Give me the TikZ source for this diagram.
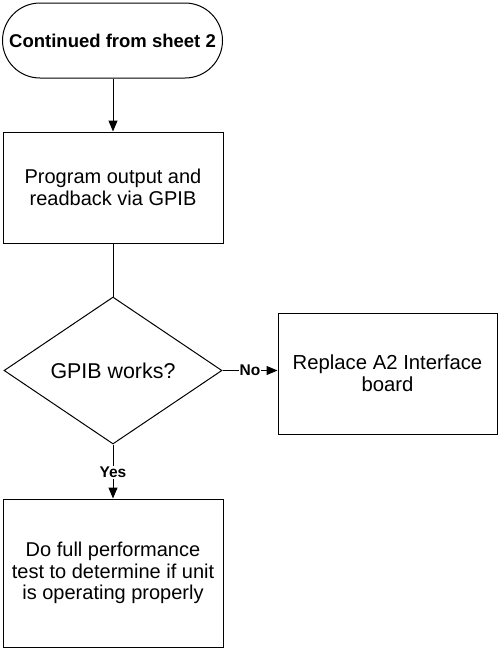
\documentclass[tikz,border=0pt]{standalone}
\usepackage{fontspec}
\setmainfont{Liberation Sans}
\usetikzlibrary{shapes.geometric,shapes.misc,arrows.meta}
\tikzset{
  boxnode/.style={draw,line width=1pt,rectangle,inner sep=0pt,align=center},
  term/.style={draw,line width=1pt,rounded rectangle,inner sep=0pt,align=center},
  dec/.style={draw,line width=1pt,diamond,inner sep=0pt,align=center},
  conn/.style={line width=1pt,-{Triangle[width=9pt,length=11pt]}},
  lbl/.style={fill=white,inner sep=1pt,font=\fontsize{15.5}{17}\selectfont\bfseries}
}
\begin{document}
\begin{tikzpicture}[x=1pt,y=-1pt]
\useasboundingbox (0,0) rectangle (498,649);
\node[term,minimum width=220pt,minimum height=75pt,font=\fontsize{18.5}{21}\selectfont\bfseries] (t) at (112.5,40.5) {Continued from sheet 2};
\node[boxnode,minimum width=220pt,minimum height=111pt,font=\fontsize{20}{21.7}\selectfont] (b1) at (113,187.5) {Program output and\\readback via GPIB};
\node[dec,minimum width=218pt,minimum height=147pt,font=\fontsize{21.4}{22}\selectfont] (d) at (113,370.5) {GPIB works?};
\node[boxnode,minimum width=219pt,minimum height=121pt,font=\fontsize{20.3}{21.7}\selectfont] (b2) at (387.5,373.5) {Replace A2 Interface\\board};
\node[boxnode,minimum width=220pt,minimum height=148pt,font=\fontsize{20}{21.7}\selectfont] (b3) at (113,573) {Do full performance\\test to determine if unit\\is operating properly};
\draw[conn] (t.south -| b1.north) -- (b1.north);
\draw[line width=1pt] (b1.south) -- (d.north);
\draw[conn] (d.east) -- (d.east -| b2.west) node[lbl,pos=0.5] (no) {No};
\draw[conn] (d.south) -- (b3.north) node[lbl,pos=0.52] (yes) {Yes};
\end{tikzpicture}
\end{document}
